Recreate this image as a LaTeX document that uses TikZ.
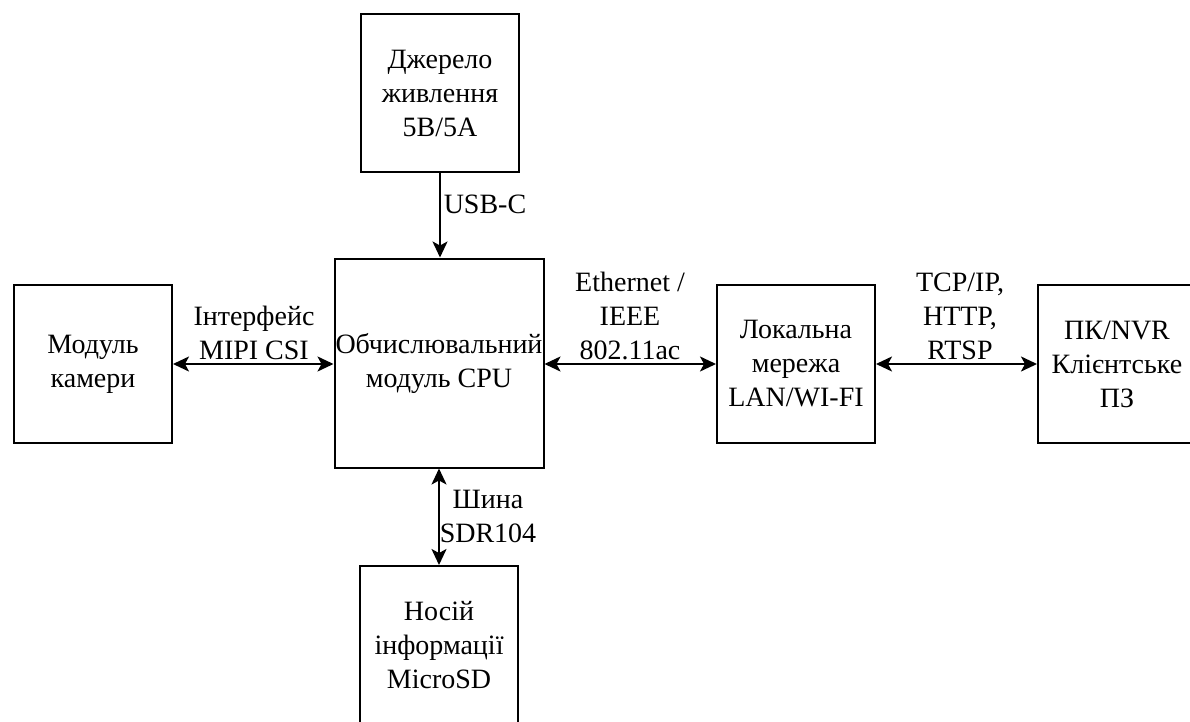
\documentclass[tikz,border=0pt]{standalone}
\usepackage{fontspec}
\setmainfont{Liberation Serif}
\usetikzlibrary{arrows.meta}
\begin{document}
\begin{tikzpicture}[x=1pt,y=-1pt,
  txt/.style={font=\fontsize{28}{34}\selectfont},
  block/.style={txt, draw, line width=2pt, minimum width=158pt, minimum height=158pt,
    inner sep=0pt, align=center},
  bigblock/.style={block, minimum width=209pt, minimum height=209pt},
  tip/.tip={Stealth[length=16pt,width=15pt,inset=4pt]},
  link/.style={line width=2pt, -tip},
  twoway/.style={line width=2pt, tip-tip},
  lbl/.style={txt, align=center, inner sep=0pt}]
\useasboundingbox (0,0) rectangle (1190,722);
\clip (0,0) rectangle (1190,722);

% blocks
\node[block] (pwr) at (440,93) {Джерело\\живлення\\5В/5А};
\node[bigblock] (cpu) at (439,363) {Обчислювальний\\модуль CPU};
\node[block] (cam) at (93,364) {Модуль\\камери};
\node[block] (lan) at (796,364) {Локальна\\мережа\\LAN/WI-FI};
\node[block] (pc) at (1117,364) {ПК/NVR\\Клієнтське\\ПЗ};
\node[block] (sd) at (439,645) {Носій\\інформації\\MicroSD};

% connections
\draw[link] (pwr.south) -- (pwr.south |- cpu.north);
\draw[twoway] (cam.east) -- (cam.east -| cpu.west);
\draw[twoway] (cpu.east |- lan.west) -- (lan.west);
\draw[twoway] (lan.east) -- (pc.west);
\draw[twoway] (cpu.south) -- (sd.north);

% interface labels
\node[lbl] (lusb) at (485,204) {USB-C};
\node[lbl] (lmipi) at (254,333) {Інтерфейс\\MIPI CSI};
\node[lbl] (leth) at (630,316) {Ethernet /\\IEEE\\802.11ac};
\node[lbl] (ltcp) at (960,316) {TCP/IP,\\HTTP,\\RTSP};
\node[lbl] (lbus) at (488,516) {Шина\\SDR104};
\end{tikzpicture}
\end{document}
